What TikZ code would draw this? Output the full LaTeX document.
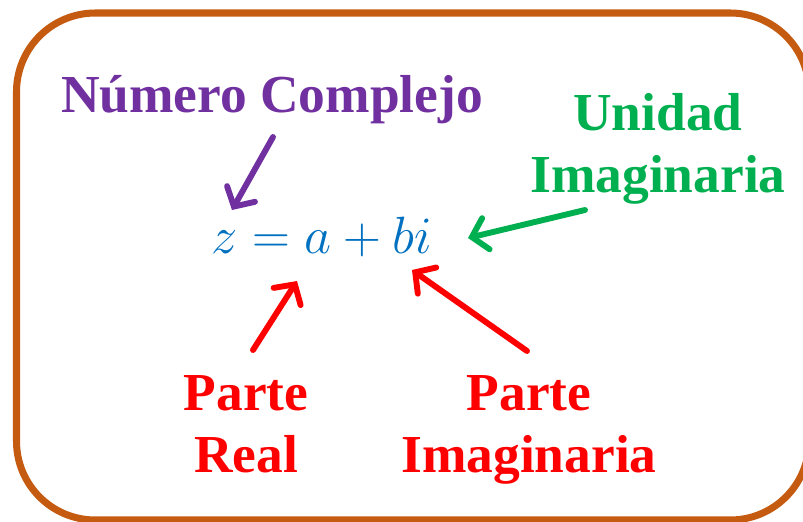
\documentclass[tikz,border=0pt]{standalone}
\usepackage{fontspec}
\setmainfont{Liberation Serif}
\usetikzlibrary{arrows.meta}
\definecolor{BoxBrown}{RGB}{197,90,17}
\definecolor{LabPurple}{RGB}{112,48,160}
\definecolor{LabGreen}{RGB}{0,176,80}
\definecolor{LabRed}{RGB}{255,0,0}
\definecolor{EqBlue}{RGB}{0,112,192}
\tikzset{
  lab text/.style={
    font=\bfseries\fontsize{38}{44}\selectfont,
    align=center,
    inner sep=0pt,
    anchor=base
  },
  lab arrow/.style={
    -{Straight Barb[length=3.6mm,width=8mm,line cap=round]},
    line width=4.2pt,
    line cap=round
  }
}
\begin{document}
\begin{tikzpicture}[x=0.025cm,y=-0.025cm]
\useasboundingbox (0,0) rectangle (803,521);
% frame
\draw[BoxBrown, line width=5pt, rounded corners=56pt] (16.5,13) rectangle (809,520);
% equation
\node[text=EqBlue, inner sep=0pt, anchor=base west,
      font=\fontsize{24.88}{30}\selectfont] (eq) at (211,253) {\scalebox{1.5}{$z = a + bi$}};
% labels (base = last line)
\node[lab text, text=LabPurple] (num) at (272,112) {Número Complejo};
\node[lab text, text=LabGreen] (uni) at (658,192) {Unidad\\Imaginaria};
\node[lab text, text=LabRed] (real) at (246,472) {Parte\\Real};
\node[lab text, text=LabRed] (imag) at (529,472) {Parte\\Imaginaria};
% arrow ends
\coordinate (numA) at (273,137);
\coordinate (numB) at (232,210);
\coordinate (uniA) at (585,210);
\coordinate (uniB) at (468,238);
\coordinate (realA) at (253,350);
\coordinate (realB) at (297,281);
\coordinate (imagA) at (527,351);
\coordinate (imagB) at (412,270);
\draw[lab arrow, LabPurple] (numA) -- (numB);
\draw[lab arrow, LabGreen] (uniA) -- (uniB);
\draw[lab arrow, LabRed] (realA) -- (realB);
\draw[lab arrow, LabRed] (imagA) -- (imagB);
\end{tikzpicture}
\end{document}
